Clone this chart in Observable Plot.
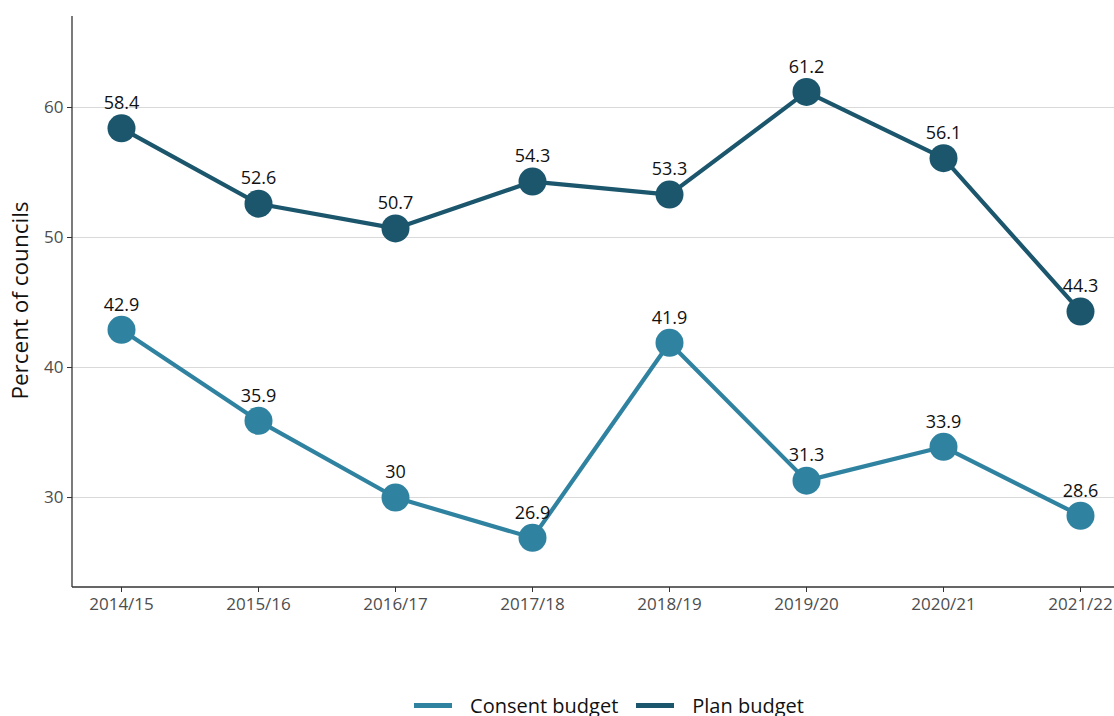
<!DOCTYPE html>
<html>
<head>
<meta charset="utf-8">
<script src="https://cdn.jsdelivr.net/npm/d3@7"></script>
<script src="https://cdn.jsdelivr.net/npm/@observablehq/plot@0.6"></script>
<style>
  html, body { margin: 0; padding: 0; background: #fff; overflow: hidden; }
  body { width: 1114px; height: 716px; font-family: "Open Sans", sans-serif; }
  #legend { display: flex; justify-content: center; align-items: center; gap: 18px; margin-top: 52px; padding-left: 104px; font-size: 20px; color: #111; }
  .item { display: flex; align-items: center; gap: 18px; }
  .sw { width: 38px; height: 5px; }
</style>
</head>
<body>
<div id="chart"></div>
<div id="legend"></div>
<script>
const years = ["2014/15","2015/16","2016/17","2017/18","2018/19","2019/20","2020/21","2021/22"];
const consent = [42.9, 35.9, 30, 26.9, 41.9, 31.3, 33.9, 28.6];
const plan = [58.4, 52.6, 50.7, 54.3, 53.3, 61.2, 56.1, 44.3];
const seriesNames = ["Consent budget", "Plan budget"];
const seriesColors = ["#3083a0", "#1b566d"];
const yTicks = [30, 40, 50, 60];

const data = [];
years.forEach((y, i) => data.push({year: y, value: consent[i], series: seriesNames[0]}));
years.forEach((y, i) => data.push({year: y, value: plan[i], series: seriesNames[1]}));

const W = 1114, H = 640, mL = 72, mT = 16, mB = 53, mR = 0;

const axisLines = (index, scales, values, dims) => {
  const g = d3.create("svg:g");
  g.append("line").attr("x1", dims.marginLeft).attr("x2", dims.marginLeft)
    .attr("y1", dims.marginTop).attr("y2", dims.height - dims.marginBottom)
    .attr("stroke", "#333").attr("stroke-width", 1.3);
  g.append("line").attr("x1", dims.marginLeft).attr("x2", dims.width - dims.marginRight)
    .attr("y1", dims.height - dims.marginBottom).attr("y2", dims.height - dims.marginBottom)
    .attr("stroke", "#333").attr("stroke-width", 1.3);
  return g.node();
};

const chart = Plot.plot({
  width: W, height: H,
  marginLeft: mL, marginTop: mT, marginBottom: mB, marginRight: mR,
  style: {fontFamily: "'Open Sans', sans-serif", fontSize: "17px", background: "#fff"},
  x: {type: "point", domain: years, range: [120, 1081], padding: 0, label: null},
  y: {domain: [23.08, 67], label: null},
  color: {domain: seriesNames, range: seriesColors},
  marks: [
    Plot.ruleY(yTicks, {stroke: "#d9d9d9", strokeWidth: 1}),
    axisLines,
    Plot.axisY({ticks: yTicks, tickSize: 5, tickPadding: 4, fontSize: 17, color: "#4d4d4d", stroke: "#333", label: null}),
    Plot.axisX({tickSize: 5, tickPadding: 5, fontSize: 17, color: "#4d4d4d", stroke: "#333", label: null}),
    Plot.line(data, {x: "year", y: "value", z: "series", stroke: "series", strokeWidth: 4.2}),
    Plot.dot(data, {x: "year", y: "value", fill: "series", r: 14}),
    Plot.text(data, {x: "year", y: "value", text: d => String(d.value), dy: -25, fontSize: 18, fill: "#111"})
  ]
});
document.getElementById("chart").appendChild(chart);

const svg = d3.select(chart);
svg.append("text")
  .attr("transform", `translate(28,${(mT + H - mB) / 2 - 1}) rotate(-90)`)
  .attr("text-anchor", "middle")
  .attr("font-size", 22.5)
  .attr("fill", "#111")
  .text("Percent of councils");

const legend = d3.select("#legend");
seriesNames.forEach((n, i) => {
  const it = legend.append("div").attr("class", "item");
  it.append("div").attr("class", "sw").style("background", seriesColors[i]);
  it.append("span").text(n);
});
</script>
</body>
</html>
